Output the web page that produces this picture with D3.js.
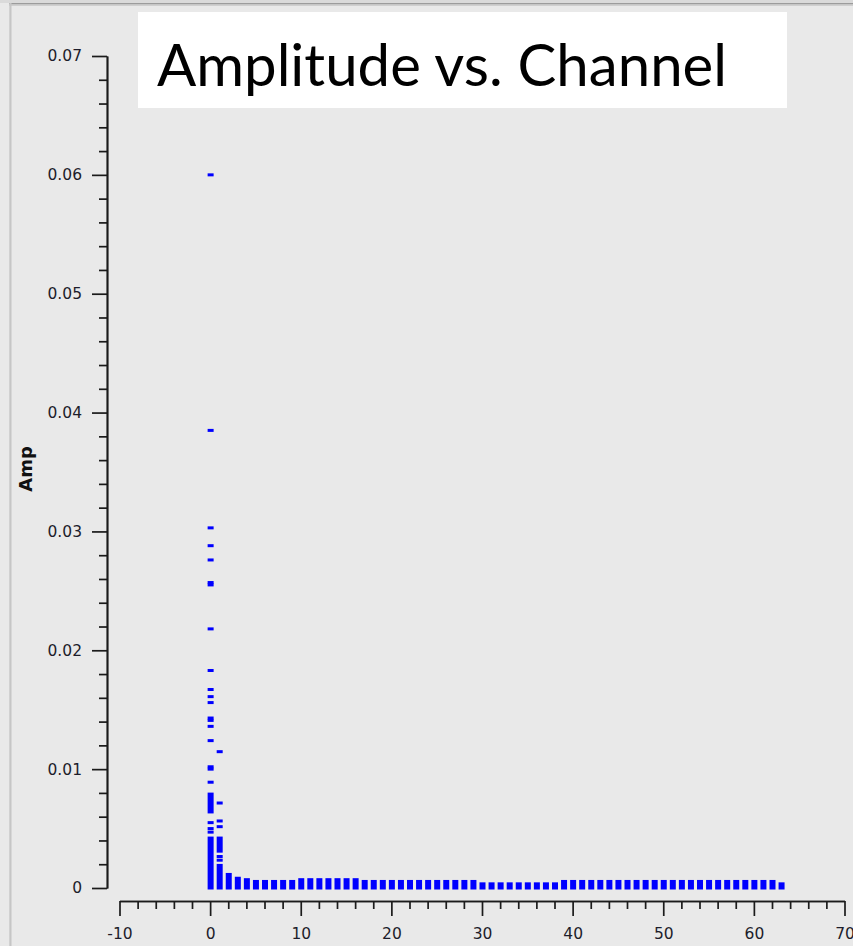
<!DOCTYPE html>
<html>
<head>
<meta charset="utf-8">
<script src="https://cdn.jsdelivr.net/npm/d3@7/dist/d3.min.js"></script>
<style>
  html, body { margin: 0; padding: 0; background: #e9e9e9; overflow: hidden; }
  svg { display: block; }
</style>
</head>
<body>
<svg id="chart" width="853" height="946"></svg>
<script>
// Axis ticks and their labels
const xTickValues = [-10, 0, 10, 20, 30, 40, 50, 60, 70];
const xTickLabels = ["-10", "0", "10", "20", "30", "40", "50", "60", "70"];
const yTickValues = [0, 0.01, 0.02, 0.03, 0.04, 0.05, 0.06, 0.07];
const yTickLabels = ["0", "0.01", "0.02", "0.03", "0.04", "0.05", "0.06", "0.07"];

// Channel 0: isolated amplitude readings
const ch0Amps = [0.0600, 0.0385, 0.0303, 0.0288, 0.0276, 0.0257, 0.0255, 0.0218,
                 0.0183, 0.0167, 0.0161, 0.0156, 0.0143, 0.0141, 0.0136, 0.0124,
                 0.0102, 0.0100, 0.0089, 0.0055, 0.0050, 0.0047];
// Channel 0: amplitude ranges packed solid with readings
const ch0Runs = [[0, 0.0042], [0.0064, 0.0079]];

// Channel 1: isolated readings and packed ranges
const ch1Amps = [0.01147, 0.00715, 0.00564, 0.00516, 0.00265, 0.00234];
const ch1Runs = [[0, 0.0019], [0.0031, 0.0042]];

// Channels 2..63: readings fill from 0 up to these peak amplitudes
const firstPeakChannel = 2;
const channelPeaks = [
  0.00114, 0.00082, 0.00070,
  0.00055, 0.00055, 0.00055, 0.00055, 0.00055,
  0.00070, 0.00070, 0.00070, 0.00070, 0.00070, 0.00070, 0.00070,
  0.00055, 0.00055, 0.00055, 0.00055, 0.00055, 0.00055, 0.00055,
  0.00055, 0.00055, 0.00055, 0.00055, 0.00055, 0.00055,
  0.00035, 0.00035, 0.00035, 0.00035, 0.00035, 0.00035, 0.00035, 0.00035, 0.00035,
  0.00055, 0.00055, 0.00055, 0.00055, 0.00055, 0.00055, 0.00055, 0.00055,
  0.00055, 0.00055, 0.00055, 0.00055, 0.00055, 0.00055, 0.00055, 0.00055,
  0.00055, 0.00055, 0.00055, 0.00055, 0.00055, 0.00055, 0.00055, 0.00055,
  0.00035
];

const W = 853, H = 946;
const BG = "#e9e9e9";
const INK = "#1b1b1b";
const MARK = "#0000ff";
const markW = 6, markH = 3;

const svg = d3.select("#chart");

const x = d3.scaleLinear().domain([-10, 70]).range([119.5, 844.5]);
const y = d3.scaleLinear().domain([0, 0.07]).range([888, 56]);
const xAxisY = 901;
const yAxisX = 107;

// Frame of the panel
svg.append("rect").attr("width", W).attr("height", H).attr("fill", BG);
svg.append("rect").attr("x", 0).attr("y", 0).attr("width", W).attr("height", 3).attr("fill", "#dadada");
svg.append("rect").attr("x", 9).attr("y", 3).attr("width", W - 9).attr("height", 1.4).attr("fill", "#9c9c9c");
svg.append("rect").attr("x", 9).attr("y", 4.4).attr("width", W - 9).attr("height", 1.3).attr("fill", "#c4c4c4");
svg.append("rect").attr("x", 9.3).attr("y", 3).attr("width", 2.2).attr("height", H - 3).attr("fill", "#c6c6c6");

// Y axis: major ticks with labels, minor ticks every 0.002
const yMinor = y.ticks(35).filter(v => !yTickValues.some(t => Math.abs(t - v) < 1e-9));
const gy = svg.append("g").attr("transform", `translate(${yAxisX},0)`);
gy.call(d3.axisLeft(y).tickValues(yMinor).tickSize(8).tickSizeOuter(0).tickFormat(""));
const gyMajor = svg.append("g").attr("transform", `translate(${yAxisX},0)`)
  .call(d3.axisLeft(y).tickValues(yTickValues).tickSize(15).tickSizeOuter(0).tickPadding(10)
        .tickFormat((d, i) => yTickLabels[i]));
[gy, gyMajor].forEach(g => {
  g.selectAll("path, line").attr("stroke", INK).attr("stroke-width", 1.7);
});
gyMajor.selectAll("text")
  .attr("fill", "#1d1d2b")
  .style("font-family", "'DejaVu Sans', sans-serif")
  .style("font-size", "15.5px");

// X axis: major ticks with labels, minor ticks every 2 channels
const xMinor = x.ticks(40).filter(v => !xTickValues.includes(v));
const gx = svg.append("g").attr("transform", `translate(0,${xAxisY})`);
gx.call(d3.axisBottom(x).tickValues(xMinor).tickSize(8).tickSizeOuter(0).tickFormat(""));
const gxMajor = svg.append("g").attr("transform", `translate(0,${xAxisY})`)
  .call(d3.axisBottom(x).tickValues(xTickValues).tickSize(15).tickSizeOuter(0).tickPadding(12)
        .tickFormat((d, i) => xTickLabels[i]));
[gx, gxMajor].forEach(g => {
  g.selectAll("path, line").attr("stroke", INK).attr("stroke-width", 1.7);
});
gxMajor.selectAll("text")
  .attr("fill", "#1d1d2b")
  .style("font-family", "'DejaVu Sans', sans-serif")
  .style("font-size", "15.5px");

// Y axis title
svg.append("text")
  .attr("transform", `translate(32,469) rotate(-90)`)
  .attr("text-anchor", "middle")
  .attr("fill", "#111")
  .style("font-family", "'DejaVu Sans', sans-serif")
  .style("font-weight", "bold")
  .style("font-size", "18px")
  .text("Amp");

// Data marks
const plot = svg.append("g");

// Solid columns for channels 2..63 (from 0 to each peak)
plot.selectAll("rect.col")
  .data(channelPeaks)
  .join("rect")
  .attr("class", "col")
  .attr("x", (d, i) => x(i + firstPeakChannel) - markW / 2 + 0.5)
  .attr("y", d => y(d) - markH / 2)
  .attr("width", markW)
  .attr("height", d => y(0) - y(d) + markH)
  .attr("fill", MARK);

// Packed ranges in channels 0 and 1
const runs = [
  ...ch0Runs.map(r => ({ ch: 0, lo: r[0], hi: r[1] })),
  ...ch1Runs.map(r => ({ ch: 1, lo: r[0], hi: r[1] }))
];
plot.selectAll("rect.run")
  .data(runs)
  .join("rect")
  .attr("class", "run")
  .attr("x", d => x(d.ch) - markW / 2 + 0.5)
  .attr("y", d => y(d.hi) - markH / 2)
  .attr("width", markW)
  .attr("height", d => y(d.lo) - y(d.hi) + markH)
  .attr("fill", MARK);

// Isolated readings in channels 0 and 1
const points = [
  ...ch0Amps.map(a => ({ ch: 0, amp: a })),
  ...ch1Amps.map(a => ({ ch: 1, amp: a }))
];
plot.selectAll("rect.pt")
  .data(points)
  .join("rect")
  .attr("class", "pt")
  .attr("x", d => x(d.ch) - markW / 2 + 0.5)
  .attr("y", d => y(d.amp) - markH / 2)
  .attr("width", markW)
  .attr("height", markH)
  .attr("fill", MARK);

// Title panel
svg.append("rect")
  .attr("x", 138).attr("y", 12).attr("width", 649).attr("height", 96)
  .attr("fill", "#ffffff");
svg.append("text")
  .attr("x", 157).attr("y", 86)
  .attr("textLength", 570)
  .attr("lengthAdjust", "spacingAndGlyphs")
  .attr("fill", "#000")
  .style("font-family", "Lato, 'Open Sans', sans-serif")
  .style("font-size", "59px")
  .text("Amplitude vs. Channel");
</script>
</body>
</html>
